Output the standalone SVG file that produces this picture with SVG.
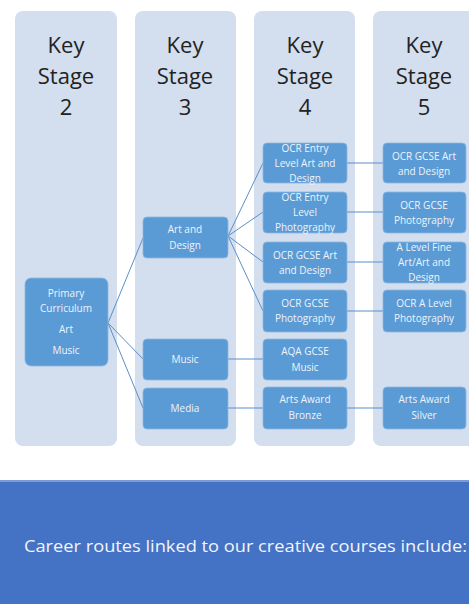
<svg xmlns="http://www.w3.org/2000/svg" width="469" height="604" viewBox="0 0 469 604">
<style>
.col{fill:#D3DEEF}
.hd{font-family:"Open Sans","Liberation Sans",sans-serif;font-size:22px;fill:#222;text-anchor:middle}
.nd{fill:#5B9BD5;stroke:#8DB6E0;stroke-width:0.8}
.nt{font-family:"Open Sans","Liberation Sans",sans-serif;font-size:10px;fill:#EEF3FA;text-anchor:middle}
.cn{stroke:#5B8FCB;stroke-width:1;fill:none}
</style>
<rect width="469" height="604" fill="#fff"/>
<g id="columns">
<g id="ks2"><rect class="col" x="15" y="11" width="102" height="435" rx="8"/>
<text class="hd" x="66" y="53">Key</text><text class="hd" x="66" y="84">Stage</text><text class="hd" x="66" y="115">2</text></g>
<g id="ks3"><rect class="col" x="135" y="11" width="101" height="435" rx="8"/>
<text class="hd" x="185" y="53">Key</text><text class="hd" x="185" y="84">Stage</text><text class="hd" x="185" y="115">3</text></g>
<g id="ks4"><rect class="col" x="254" y="11" width="101" height="435" rx="8"/>
<text class="hd" x="305" y="53">Key</text><text class="hd" x="305" y="84">Stage</text><text class="hd" x="305" y="115">4</text></g>
<g id="ks5"><rect class="col" x="373" y="11" width="106" height="435" rx="8"/>
<text class="hd" x="424" y="53">Key</text><text class="hd" x="424" y="84">Stage</text><text class="hd" x="424" y="115">5</text></g>
</g>
<g id="connectors">
<path class="cn" d="M108 323 L143 238 M108 323 L143 359 M108 323 L143 408"/>
<path class="cn" d="M228 236 L263 163 M228 236 L263 212 M228 236 L263 262 M228 236 L263 311"/>
<path class="cn" d="M228 359 L263 359 M228 408 L263 408"/>
<path class="cn" d="M347 163 L383 163 M347 212 L383 212 M347 262 L383 262 M347 311 L383 311 M347 408 L383 408"/>
</g>
<g id="n-primary"><rect class="nd" x="25" y="278" width="83" height="88" rx="6"/>
<text class="nt" x="66" y="297">Primary</text><text class="nt" x="66" y="312">Curriculum</text><text class="nt" x="66" y="333">Art</text><text class="nt" x="66" y="354">Music</text></g>
<g id="n-ks3-art"><rect class="nd" x="143" y="217" width="85" height="41" rx="4"/>
<text class="nt" x="185" y="233">Art and</text><text class="nt" x="185" y="249">Design</text></g>
<g id="n-ks3-music"><rect class="nd" x="143" y="339" width="85" height="41" rx="4"/>
<text class="nt" x="185" y="363">Music</text></g>
<g id="n-ks3-media"><rect class="nd" x="143" y="388" width="85" height="41" rx="4"/>
<text class="nt" x="185" y="412">Media</text></g>
<g id="n-ks4-ela"><rect class="nd" x="263" y="143" width="84" height="40" rx="4"/>
<text class="nt" x="305" y="152">OCR Entry</text><text class="nt" x="305" y="167">Level Art and</text><text class="nt" x="305" y="182">Design</text></g>
<g id="n-ks4-elp"><rect class="nd" x="263" y="192" width="84" height="41" rx="4"/>
<text class="nt" x="305" y="201">OCR Entry</text><text class="nt" x="305" y="216">Level</text><text class="nt" x="305" y="231">Photography</text></g>
<g id="n-ks4-gad"><rect class="nd" x="263" y="242" width="84" height="41" rx="4"/>
<text class="nt" x="305" y="259">OCR GCSE Art</text><text class="nt" x="305" y="274">and Design</text></g>
<g id="n-ks4-gp"><rect class="nd" x="263" y="290" width="84" height="42" rx="4"/>
<text class="nt" x="305" y="307">OCR GCSE</text><text class="nt" x="305" y="322">Photography</text></g>
<g id="n-ks4-aqa"><rect class="nd" x="263" y="339" width="84" height="41" rx="4"/>
<text class="nt" x="305" y="355">AQA GCSE</text><text class="nt" x="305" y="371">Music</text></g>
<g id="n-ks4-bronze"><rect class="nd" x="263" y="387" width="84" height="42" rx="4"/>
<text class="nt" x="305" y="403">Arts Award</text><text class="nt" x="305" y="419">Bronze</text></g>
<g id="n-ks5-gad"><rect class="nd" x="383" y="143" width="83" height="40" rx="4"/>
<text class="nt" x="424" y="160">OCR GCSE Art</text><text class="nt" x="424" y="175">and Design</text></g>
<g id="n-ks5-gp"><rect class="nd" x="383" y="192" width="83" height="41" rx="4"/>
<text class="nt" x="424" y="209">OCR GCSE</text><text class="nt" x="424" y="224">Photography</text></g>
<g id="n-ks5-alf"><rect class="nd" x="383" y="242" width="83" height="41" rx="4"/>
<text class="nt" x="424" y="251">A Level Fine</text><text class="nt" x="424" y="266">Art/Art  and</text><text class="nt" x="424" y="281">Design</text></g>
<g id="n-ks5-alp"><rect class="nd" x="383" y="290" width="83" height="42" rx="4"/>
<text class="nt" x="424" y="307">OCR A Level</text><text class="nt" x="424" y="322">Photography</text></g>
<g id="n-ks5-silver"><rect class="nd" x="383" y="387" width="83" height="42" rx="4"/>
<text class="nt" x="424" y="403">Arts Award</text><text class="nt" x="424" y="419">Silver</text></g>
<g id="banner"><rect x="0" y="480" width="469" height="124" fill="#4472C4"/>
<rect x="0" y="480" width="469" height="2" fill="#7A9BD6"/>
<text x="24" y="552" font-family="'Open Sans','Liberation Sans',sans-serif" font-size="16" fill="#F2F5FB" textLength="443" lengthAdjust="spacingAndGlyphs">Career routes linked to our creative courses include:</text></g>
</svg>
